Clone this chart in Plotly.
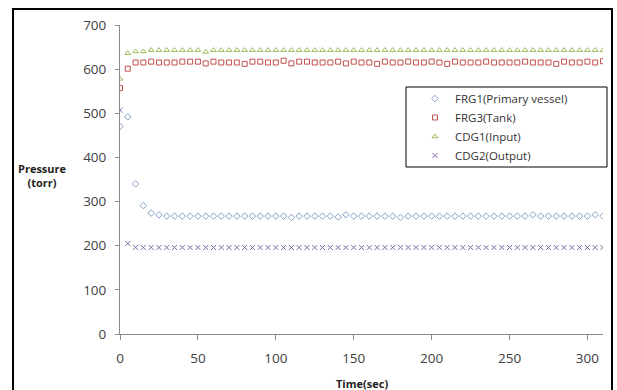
import plotly.graph_objects as go

time_sec = [0, 5, 10, 15, 20, 25, 30, 35, 40, 45, 50, 55, 60, 65, 70, 75, 80, 85, 90, 95,
            100, 105, 110, 115, 120, 125, 130, 135, 140, 145, 150, 155, 160, 165, 170, 175,
            180, 185, 190, 195, 200, 205, 210, 215, 220, 225, 230, 235, 240, 245, 250, 255,
            260, 265, 270, 275, 280, 285, 290, 295, 300, 305, 310]

frg1 = [470, 492, 340, 291, 274, 270, 267, 267, 267, 267, 267, 267, 267, 267, 267, 267,
        267, 267, 267, 267, 267, 267, 264, 267, 267, 267, 267, 267, 265, 270, 267, 267,
        267, 267, 267, 267, 264, 267, 267, 267, 267, 267, 267, 267, 267, 267, 267, 267,
        267, 267, 267, 267, 267, 270, 267, 267, 267, 267, 267, 267, 267, 270, 267]

frg3 = [557, 601, 615, 615, 617, 615, 615, 615, 617, 617, 617, 613, 617, 615, 615, 615,
        612, 617, 617, 615, 615, 619, 613, 617, 617, 615, 615, 615, 617, 613, 617, 615,
        615, 612, 617, 615, 615, 617, 615, 615, 617, 615, 612, 617, 615, 615, 615, 617,
        615, 615, 615, 615, 617, 615, 615, 615, 612, 617, 615, 615, 617, 615, 618]

cdg1 = [578, 636, 640, 640, 643, 643, 643, 643, 643, 643, 643, 639, 643, 643, 643, 643,
        643, 643, 643, 643, 643, 643, 643, 643, 643, 643, 643, 643, 643, 643, 643, 643,
        643, 643, 643, 643, 643, 643, 643, 643, 643, 643, 643, 643, 643, 643, 643, 643,
        643, 643, 643, 643, 643, 643, 643, 643, 643, 643, 643, 643, 643, 643, 643]

cdg2 = [507, 205, 196, 196, 196, 196, 196, 196, 196, 196, 196, 196, 196, 196, 196, 196,
        196, 196, 196, 196, 196, 196, 196, 196, 196, 196, 196, 196, 196, 196, 196, 196,
        196, 196, 196, 196, 196, 196, 196, 196, 196, 196, 196, 196, 196, 196, 196, 196,
        196, 196, 196, 196, 196, 196, 196, 196, 196, 196, 196, 196, 196, 196, 196]

series_names = ["FRG1(Primary vessel)", "FRG3(Tank)", "CDG1(Input)", "CDG2(Output)"]
x_ticks = [0, 50, 100, 150, 200, 250, 300]
y_ticks = [0, 100, 200, 300, 400, 500, 600, 700]

styles = [
    ("diamond-open", "#86a0c8", 5),
    ("square-open", "#c0504d", 5),
    ("triangle-up-open", "#9bbb59", 5),
    ("x-thin-open", "#8064a2", 5),
]

fig = go.Figure()
for name, vals, (sym, col, sz) in zip(series_names, [frg1, frg3, cdg1, cdg2], styles):
    fig.add_trace(go.Scatter(
        x=time_sec, y=vals, mode="markers", name=name,
        marker=dict(symbol=sym, size=sz, color=col, line=dict(width=1, color=col)),
    ))

W, H = 617, 390
L, R, T, B = 120, 14, 25, 56
pw, ph = W - L - R, H - T - B

def px_x(p):
    return (p - L) / pw

def px_y(p):
    return (H - B - p) / ph

fig.update_layout(
    width=W, height=H,
    margin=dict(l=L, r=R, t=T, b=B),
    paper_bgcolor="white", plot_bgcolor="white",
    font=dict(family="Open Sans", color="#404040"),
    showlegend=True,
    legend=dict(
        x=px_x(415), y=px_y(84), xanchor="left", yanchor="top",
        bgcolor="rgba(0,0,0,0)", borderwidth=0,
        font=dict(size=11.5, color="#333333", family="Open Sans"),
        tracegroupgap=0, itemwidth=30,
    ),
    xaxis=dict(
        range=[0, 310], tickvals=x_ticks, showgrid=False, zeroline=False,
        showline=True, linecolor="#8a8a8a", linewidth=1,
        ticks="outside", ticklen=5, tickcolor="#8a8a8a",
        tickfont=dict(size=13.5, color="#404040"), ticklabelstandoff=7,
    ),
    yaxis=dict(
        range=[0, 700], tickvals=y_ticks, showgrid=False, zeroline=False,
        showline=True, linecolor="#8a8a8a", linewidth=1,
        ticks="outside", ticklen=4, tickcolor="#8a8a8a",
        tickfont=dict(size=13.5, color="#404040"), ticklabelstandoff=6,
    ),
    shapes=[
        dict(type="rect", xref="paper", yref="paper",
             x0=px_x(13), x1=px_x(612), y0=px_y(395), y1=px_y(9),
             line=dict(color="black", width=2), fillcolor="rgba(0,0,0,0)", layer="below"),
        dict(type="rect", xref="paper", yref="paper",
             x0=px_x(406), x1=px_x(607), y0=px_y(167), y1=px_y(87),
             line=dict(color="black", width=1), fillcolor="white", layer="below"),
    ],
    annotations=[
        dict(text="<b>Pressure<br>(torr)</b>", xref="paper", yref="paper",
             x=px_x(42), y=px_y(175), xanchor="center", yanchor="middle",
             showarrow=False, font=dict(size=11, color="#222222"), align="center"),
        dict(text="<b>Time(sec)</b>", xref="paper", yref="paper",
             x=0.5, y=px_y(383), xanchor="center", yanchor="middle",
             showarrow=False, font=dict(size=11, color="#222222")),
    ],
)

fig.write_html("out.html")
